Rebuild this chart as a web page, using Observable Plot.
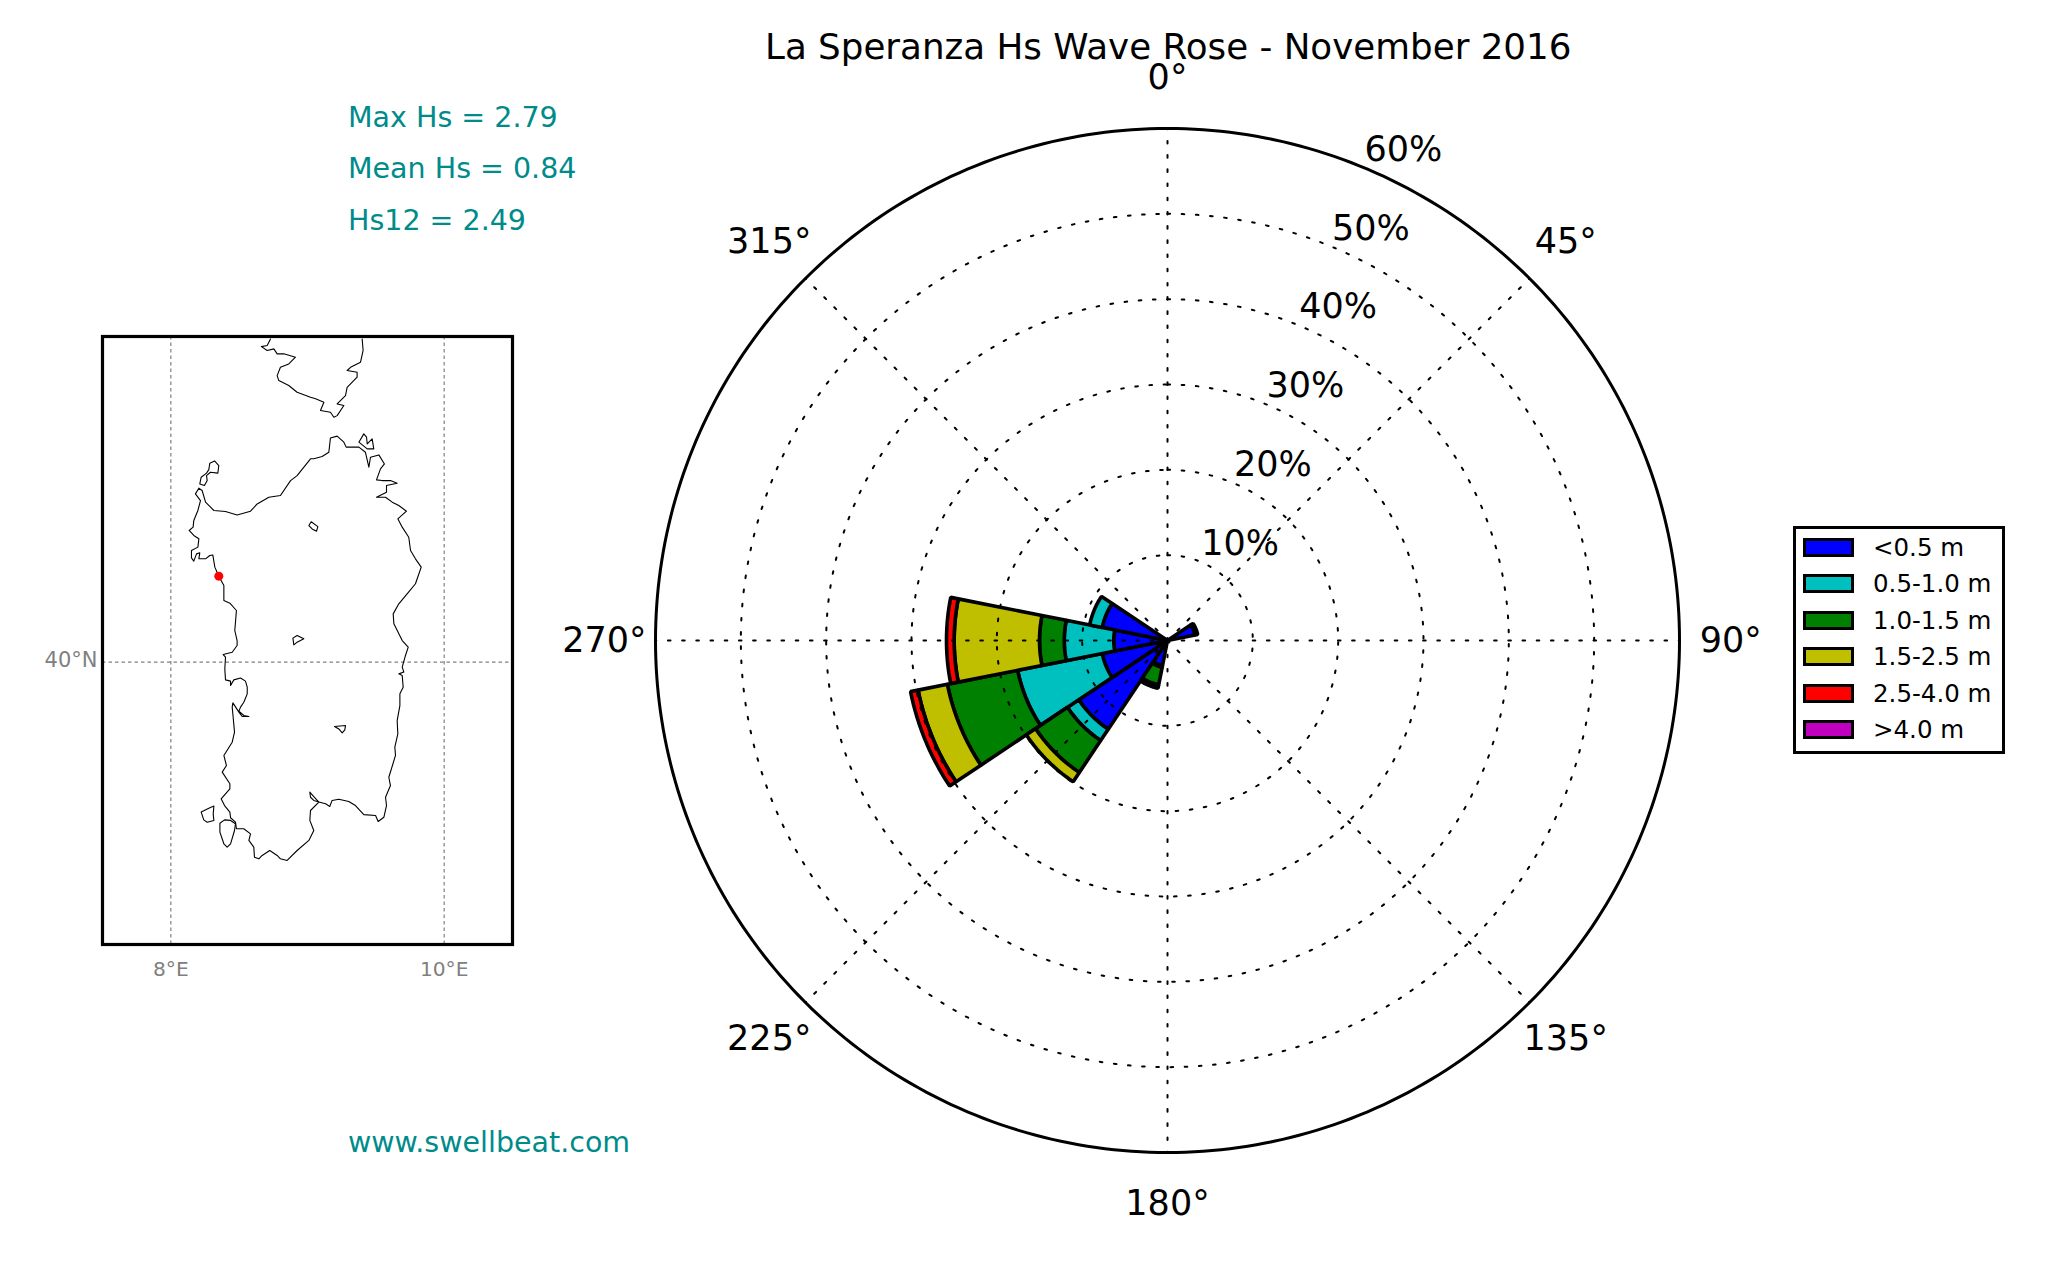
<!DOCTYPE html>
<html><head><meta charset="utf-8">
<script src="https://cdn.jsdelivr.net/npm/d3@7"></script>
<script src="https://cdn.jsdelivr.net/npm/@observablehq/plot@0.6"></script>
<style>
html,body{margin:0;padding:0;background:#fff;width:2048px;height:1280px;overflow:hidden;font-family:"DejaVu Sans",sans-serif}
#page{position:relative;width:2048px;height:1280px}
#map,#rose{position:absolute;top:0}
#map{left:0}#rose{left:540px}
.t{position:absolute;white-space:nowrap;transform:translateY(-50%);line-height:1}
#title{left:765px;top:47px;font-size:35.7px;color:#000}
.stat{left:348px;font-size:28.5px;color:#008b8b}
#legend{position:absolute;left:1793px;top:526px;width:206px;height:222px;border:3px solid #000;background:#fff}
.sw{position:absolute;left:7px;width:45px;height:13px;border:3px solid #000}
.lb{position:absolute;left:77px;font-size:24.5px;line-height:1;transform:translateY(-50%);white-space:nowrap}
</style></head><body><div id="page">
<div id="map"></div><div id="rose"></div>
<div class="t" id="title">La Speranza Hs Wave Rose - November 2016</div>
<div class="t stat" style="top:117.5px">Max Hs = 2.79</div>
<div class="t stat" style="top:169px">Mean Hs = 0.84</div>
<div class="t stat" style="top:220.5px">Hs12 = 2.49</div>
<div class="t stat" style="top:1143px">www.swellbeat.com</div>
<div id="legend"></div>
</div>
<script>
const directions = [67.5, 202.5, 225, 247.5, 270, 292.5];
const binWidth = 22.5;
const classLabels = ["<0.5 m","0.5-1.0 m","1.0-1.5 m","1.5-2.5 m","2.5-4.0 m",">4.0 m"];
const classColors = ["#0000ff","#00bfbf","#008000","#bfbf00","#ff0000","#bf00bf"];
const below05 = [3.3, 3.0, 12.5, 7.8, 6.3, 7.8];
const from05to10 = [0.3, 0.2, 1.6, 10.1, 5.8, 1.5];
const from10to15 = [0, 2.1, 4.5, 8.4, 2.9, 0];
const from15to25 = [0, 0.4, 1.3, 3.5, 10.0, 0];
const from25to40 = [0, 0, 0, 0.9, 0.9, 0];
const above40 = [0, 0, 0, 0, 0, 0];
const ringValues = [10,20,30,40,50];
const outerRing = 60;
const spokeAngles = [0,45,90,135,180,225,270,315];
const radialLabelAngle = 22.5;

const sardinia = [[8.205,40.983],[8.180,40.951],[8.217,40.913],[8.198,40.857],[8.168,40.800],[8.163,40.763],[8.134,40.744],[8.168,40.716],[8.205,40.697],[8.198,40.650],[8.151,40.631],[8.151,40.589],[8.168,40.571],[8.188,40.612],[8.212,40.618],[8.205,40.584],[8.254,40.584],[8.285,40.603],[8.307,40.606],[8.322,40.537],[8.351,40.486],[8.388,40.433],[8.388,40.348],[8.432,40.333],[8.480,40.292],[8.468,40.179],[8.485,40.122],[8.485,40.094],[8.449,40.056],[8.383,40.043],[8.400,40.028],[8.395,39.962],[8.400,39.900],[8.437,39.893],[8.437,39.868],[8.461,39.900],[8.510,39.911],[8.546,39.893],[8.559,39.859],[8.559,39.821],[8.534,39.774],[8.510,39.746],[8.498,39.723],[8.534,39.699],[8.571,39.693],[8.522,39.693],[8.498,39.718],[8.454,39.770],[8.449,39.746],[8.456,39.689],[8.466,39.605],[8.449,39.548],[8.388,39.473],[8.407,39.416],[8.376,39.379],[8.432,39.313],[8.432,39.284],[8.368,39.228],[8.393,39.190],[8.432,39.153],[8.437,39.121],[8.473,39.096],[8.480,39.059],[8.534,39.059],[8.583,39.030],[8.571,38.993],[8.607,38.955],[8.612,38.898],[8.644,38.889],[8.668,38.908],[8.724,38.936],[8.778,38.908],[8.802,38.889],[8.851,38.880],[8.924,38.936],[9.010,38.993],[9.046,39.049],[9.017,39.106],[9.022,39.162],[9.083,39.209],[9.046,39.241],[9.017,39.266],[9.022,39.237],[9.046,39.219],[9.090,39.209],[9.132,39.200],[9.163,39.185],[9.180,39.219],[9.229,39.226],[9.302,39.213],[9.351,39.190],[9.412,39.139],[9.498,39.134],[9.517,39.100],[9.559,39.124],[9.578,39.190],[9.571,39.237],[9.607,39.303],[9.595,39.350],[9.644,39.473],[9.639,39.520],[9.661,39.595],[9.656,39.670],[9.676,39.755],[9.676,39.821],[9.700,39.859],[9.693,39.925],[9.668,39.934],[9.705,39.944],[9.693,39.972],[9.717,40.038],[9.737,40.085],[9.693,40.122],[9.632,40.217],[9.627,40.273],[9.668,40.330],[9.729,40.386],[9.790,40.443],[9.832,40.537],[9.790,40.584],[9.754,40.631],[9.741,40.706],[9.693,40.763],[9.661,40.810],[9.724,40.853],[9.668,40.885],[9.620,40.904],[9.571,40.932],[9.505,40.932],[9.578,40.960],[9.578,40.998],[9.656,41.011],[9.607,41.026],[9.546,41.026],[9.505,41.030],[9.534,41.092],[9.563,41.120],[9.522,41.171],[9.461,41.158],[9.449,41.102],[9.424,41.186],[9.376,41.215],[9.327,41.215],[9.283,41.215],[9.266,41.243],[9.217,41.277],[9.168,41.267],[9.156,41.186],[9.107,41.162],[9.046,41.149],[9.022,41.149],[8.924,41.054],[8.876,41.026],[8.802,40.942],[8.717,40.932],[8.632,40.894],[8.583,40.853],[8.485,40.832],[8.400,40.851],[8.315,40.857],[8.254,40.904],[8.229,40.970]];
const asinara = [[8.320,41.137],[8.285,41.124],[8.278,41.088],[8.261,41.068],[8.222,41.045],[8.212,41.007],[8.246,40.998],[8.266,41.026],[8.261,41.054],[8.290,41.073],[8.344,41.068],[8.351,41.111]];
const santAntioco = [[8.359,39.090],[8.393,39.109],[8.437,39.106],[8.473,39.087],[8.466,39.049],[8.437,38.974],[8.412,38.955],[8.388,38.974],[8.359,39.040]];
const sanPietro = [[8.222,39.153],[8.278,39.175],[8.315,39.187],[8.310,39.143],[8.315,39.106],[8.266,39.096],[8.241,39.109]];
const maddalena = [[9.376,41.243],[9.412,41.290],[9.432,41.271],[9.437,41.233],[9.473,41.262],[9.485,41.205],[9.437,41.205]];
const lakeCoghinas = [[9.010,40.772],[9.027,40.793],[9.076,40.766],[9.066,40.740],[9.034,40.753]];
const lakeOmodeo = [[8.893,40.136],[8.924,40.151],[8.973,40.132],[8.924,40.113],[8.900,40.098]];
const lakeFlumendosa = [[9.198,39.637],[9.278,39.642],[9.273,39.618],[9.254,39.601],[9.229,39.623]];
const corsica = [[8.729,41.826],[8.705,41.789],[8.663,41.783],[8.705,41.761],[8.754,41.770],[8.778,41.742],[8.827,41.742],[8.912,41.723],[8.863,41.685],[8.802,41.666],[8.778,41.619],[8.790,41.591],[8.863,41.563],[8.924,41.525],[9.022,41.497],[9.059,41.488],[9.120,41.469],[9.095,41.422],[9.168,41.412],[9.193,41.384],[9.217,41.393],[9.266,41.450],[9.217,41.459],[9.278,41.506],[9.290,41.553],[9.363,41.610],[9.363,41.638],[9.290,41.648],[9.315,41.666],[9.388,41.695],[9.407,41.761],[9.400,41.826]];
const station = [[8.351,40.486]];
const lonTicks = [8,10];
const latTicks = [40];

const classSeries = [below05, from05to10, from10to15, from15to25, from25to40, above40];
const polar = (deg, r) => ({x: r*Math.sin(deg*Math.PI/180), y: r*Math.cos(deg*Math.PI/180)});

// stacked wedges
const wedgePts = [];
const base = directions.map(() => 0);
classSeries.forEach((series, c) => series.forEach((h, i) => {
  if (h <= 0) return;
  const id = c + "-" + i, cls = classLabels[c], r0 = base[i], r1 = r0 + h;
  const a0 = directions[i]-binWidth/2, a1 = directions[i]+binWidth/2;
  for (let a = a0; a <= a1+1e-6; a += 1.5) wedgePts.push({id, cls, ...polar(a, r1)});
  if (r0 === 0) wedgePts.push({id, cls, x:0, y:0});
  else for (let a = a1; a >= a0-1e-6; a -= 1.5) wedgePts.push({id, cls, ...polar(a, r0)});
  base[i] = r1;
}));
const circlePts = r => d3.range(0, 360.5, 1).map(a => ({ring:r, ...polar(a, r)}));
const ringPts = ringValues.flatMap(circlePts);
const spokePts = spokeAngles.flatMap(a => [{spoke:a, x:0, y:0},{spoke:a, ...polar(a, outerRing)}]);
const font = "DejaVu Sans";

document.getElementById("rose").append(Plot.plot({
  width:1508, height:1280, marginLeft:115, marginRight:369, marginTop:128, marginBottom:128,
  x:{domain:[-outerRing,outerRing],axis:null}, y:{domain:[-outerRing,outerRing],axis:null},
  color:{domain:classLabels, range:classColors},
  style:{background:"transparent",overflow:"visible",fontFamily:font},
  marks:[
    Plot.line(wedgePts,{x:"x",y:"y",z:"id",fill:"cls",stroke:"#000",strokeWidth:3.6,strokeLinejoin:"miter",curve:"linear-closed"}),
    Plot.line(ringPts,{x:"x",y:"y",z:"ring",stroke:"#000",strokeWidth:2,strokeDasharray:"2.6,11.6"}),
    Plot.line(spokePts,{x:"x",y:"y",z:"spoke",stroke:"#000",strokeWidth:2,strokeDasharray:"2.6,11.6"}),
    Plot.line(circlePts(outerRing),{x:"x",y:"y",stroke:"#000",strokeWidth:3}),
    Plot.text(spokeAngles,{x:a=>polar(a,outerRing*1.1).x,y:a=>polar(a,outerRing*1.1).y,text:a=>a+"°",fontSize:35,fill:"#000"}),
    Plot.text([...ringValues,outerRing],{x:r=>polar(radialLabelAngle,r).x,y:r=>polar(radialLabelAngle,r).y,text:r=>r+"%",fontSize:35,fill:"#000",dx:40,dy:-18})
  ]
}));

const row = p => ({lon:p[0],lat:p[1]});
const outlines = [sardinia,asinara,santAntioco,sanPietro,maddalena,lakeCoghinas,lakeOmodeo,lakeFlumendosa];
document.getElementById("map").append(Plot.plot({
  width:560, height:1000, marginLeft:102, marginRight:48, marginTop:336, marginBottom:56,
  x:{domain:[7.5,10.5],axis:null}, y:{domain:[38.405,41.84],axis:null},
  style:{background:"transparent",overflow:"visible",fontFamily:font},
  marks:[
    Plot.gridX(lonTicks,{x:d=>d,stroke:"#808080",strokeOpacity:1,strokeWidth:1.2,strokeDasharray:"3.5,3"}),
    Plot.gridY(latTicks,{y:d=>d,stroke:"#808080",strokeOpacity:1,strokeWidth:1.2,strokeDasharray:"3.5,3"}),
    ...outlines.map(o=>Plot.line(o.map(row),{x:"lon",y:"lat",stroke:"#000",strokeWidth:1.1,curve:"linear-closed"})),
    Plot.line(corsica.map(row),{x:"lon",y:"lat",stroke:"#000",strokeWidth:1.1}),
    Plot.dot(station.map(row),{x:"lon",y:"lat",r:4.5,fill:"#ff0000",stroke:"none"}),
    Plot.frame({stroke:"#000",strokeWidth:3.2}),
    Plot.axisX(lonTicks,{anchor:"bottom",label:null,tickSize:0,tickPadding:17,tickFormat:d=>d+"°E",fontSize:20.2,color:"#808080",fill:"#808080"}),
    Plot.axisY(latTicks,{anchor:"left",label:null,tickSize:0,tickPadding:5,tickFormat:d=>d+"°N",fontSize:21,dy:-2,color:"#808080",fill:"#808080"})
  ]
}));

const legend = document.getElementById("legend");
classLabels.forEach((l,i)=>{
  const top = 9 + i*36.4;
  const s = document.createElement("div"); s.className="sw"; s.style.top=top+"px"; s.style.background=classColors[i]; legend.append(s);
  const t = document.createElement("div"); t.className="lb"; t.style.top=(top+10)+"px"; t.textContent=l; legend.append(t);
});
</script></body></html>
